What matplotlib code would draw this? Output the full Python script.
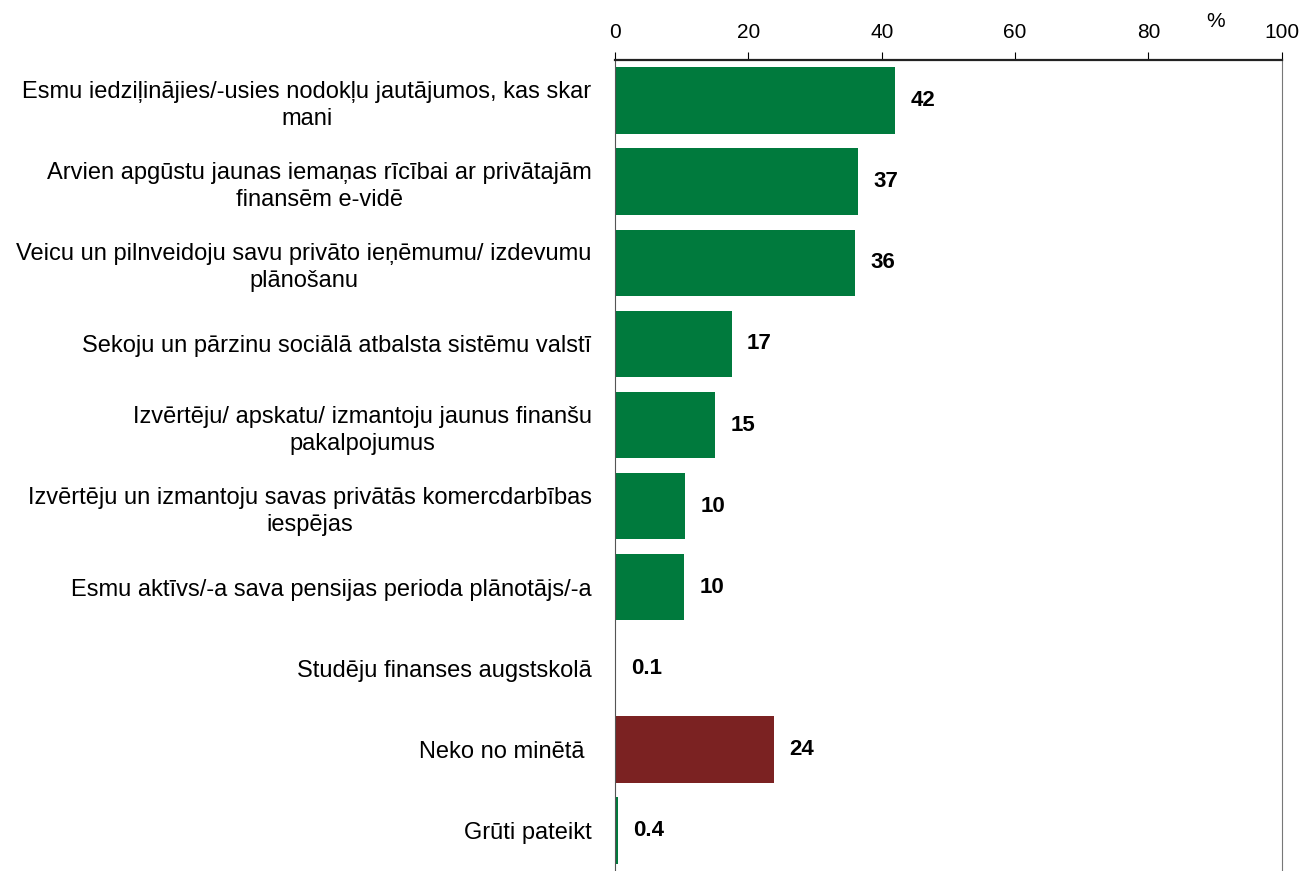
import matplotlib.pyplot as plt

plt.rcParams['font.family'] = ['Liberation Sans', 'DejaVu Sans']

categories = [
    "Esmu iedziļinājies/-usies nodokļu jautājumos, kas skar\nmani",
    "Arvien apgūstu jaunas iemaņas rīcībai ar privātajām\nfinansēm e-vidē",
    "Veicu un pilnveidoju savu privāto ieņēmumu/ izdevumu\nplānošanu",
    "Sekoju un pārzinu sociālā atbalsta sistēmu valstī",
    "Izvērtēju/ apskatu/ izmantoju jaunus finanšu\npakalpojumus",
    "Izvērtēju un izmantoju savas privātās komercdarbības\niespējas",
    "Esmu aktīvs/-a sava pensijas perioda plānotājs/-a",
    "Studēju finanses augstskolā",
    "Neko no minētā ",
    "Grūti pateikt",
]
values = [42, 36.5, 36, 17.5, 15, 10.5, 10.4, 0.1, 23.8, 0.4]
labels = ["42", "37", "36", "17", "15", "10", "10", "0.1", "24", "0.4"]
colors = ["#007a3d"] * 8 + ["#7b2222", "#007a3d"]

fig = plt.figure(figsize=(13.06, 8.71), dpi=100)
ax = fig.add_axes([0.471, 0.0, 0.5105, 0.931])

y = range(len(categories))
ax.barh(y, values, height=0.82, color=colors)
ax.set_xlim(0, 100)
ax.set_ylim(9.5, -0.5)

for yi, v, lab in zip(y, values, labels):
    ax.annotate(lab, (v, yi), xytext=(11, 0), textcoords='offset points',
                ha='left', va='center', fontsize=16, fontweight='bold')

ax.xaxis.tick_top()
ax.set_xticks([0, 20, 40, 60, 80, 100])
ax.tick_params(axis='x', direction='out', length=6, width=0.8, labelsize=15, pad=7)
ax.set_yticks(list(y))
ax.set_yticklabels(categories, fontsize=17, ha='right', multialignment='center',
                   linespacing=1.3)
ax.tick_params(axis='y', length=0, pad=17)

ax.spines['bottom'].set_visible(False)
ax.spines['top'].set_color('#222222')
ax.spines['top'].set_linewidth(1.6)
ax.spines['left'].set_color('#555555')
ax.spines['right'].set_color('#777777')

ax.text(90, 1.048, "%", transform=ax.get_xaxis_transform(), fontsize=15,
        ha='center', va='center')

fig.savefig("out.png", dpi=100)
